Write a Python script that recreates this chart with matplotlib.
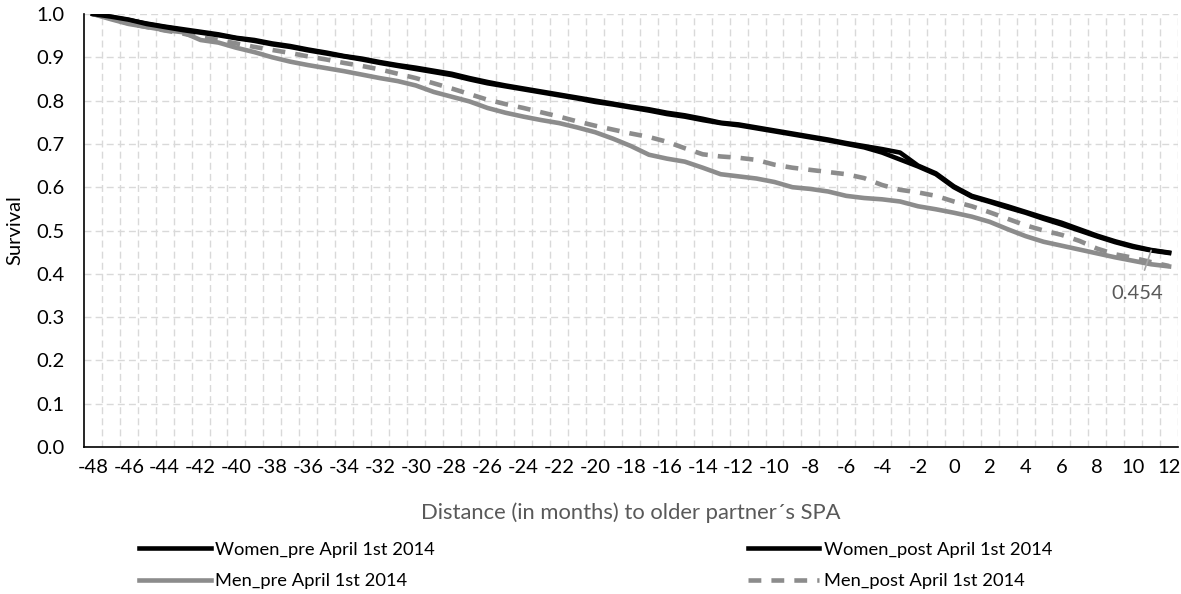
import numpy as np
import matplotlib
matplotlib.use('Agg')
import matplotlib.pyplot as plt
from matplotlib.ticker import FixedLocator

plt.rcParams['font.family'] = ['Lato', 'DejaVu Sans']
plt.rcParams['axes.unicode_minus'] = False

# Data
months = list(range(-48, 13))

women_pre = [1.000, 0.993, 0.986, 0.978, 0.971, 0.965, 0.959, 0.953, 0.945, 0.940,
             0.932, 0.926, 0.918, 0.911, 0.903, 0.897, 0.889, 0.882, 0.876, 0.869,
             0.862, 0.852, 0.843, 0.835, 0.828, 0.821, 0.814, 0.807, 0.800, 0.793,
             0.786, 0.780, 0.772, 0.766, 0.758, 0.749, 0.745, 0.738, 0.731, 0.724,
             0.717, 0.710, 0.702, 0.695, 0.688, 0.680, 0.650, 0.632, 0.602, 0.580,
             0.568, 0.556, 0.543, 0.530, 0.518, 0.503, 0.488, 0.475, 0.464, 0.455,
             0.449]

women_post = [1.000, 0.994, 0.987, 0.977, 0.970, 0.963, 0.957, 0.951, 0.944, 0.938,
              0.930, 0.924, 0.916, 0.909, 0.902, 0.895, 0.887, 0.880, 0.873, 0.866,
              0.859, 0.849, 0.840, 0.833, 0.826, 0.819, 0.812, 0.805, 0.797, 0.791,
              0.784, 0.777, 0.769, 0.763, 0.755, 0.748, 0.743, 0.736, 0.729, 0.722,
              0.715, 0.708, 0.700, 0.692, 0.680, 0.664, 0.648, 0.630, 0.600, 0.578,
              0.566, 0.553, 0.541, 0.527, 0.514, 0.500, 0.486, 0.473, 0.462, 0.454,
              0.448]

men_pre = [1.000, 0.988, 0.977, 0.970, 0.963, 0.958, 0.940, 0.934, 0.922, 0.912,
           0.900, 0.890, 0.882, 0.875, 0.868, 0.860, 0.852, 0.845, 0.835, 0.820,
           0.809, 0.798, 0.783, 0.772, 0.763, 0.755, 0.748, 0.738, 0.727, 0.712,
           0.695, 0.675, 0.666, 0.659, 0.645, 0.630, 0.625, 0.620, 0.612, 0.600,
           0.596, 0.590, 0.580, 0.575, 0.572, 0.567, 0.556, 0.549, 0.541, 0.532,
           0.520, 0.503, 0.487, 0.474, 0.465, 0.456, 0.447, 0.438, 0.430, 0.422,
           0.417]

men_post = [1.000, 0.990, 0.978, 0.970, 0.962, 0.955, 0.946, 0.940, 0.932, 0.924,
            0.917, 0.910, 0.902, 0.895, 0.887, 0.880, 0.872, 0.862, 0.852, 0.840,
            0.828, 0.815, 0.802, 0.792, 0.783, 0.773, 0.763, 0.752, 0.742, 0.733,
            0.724, 0.716, 0.705, 0.690, 0.676, 0.671, 0.668, 0.663, 0.652, 0.645,
            0.640, 0.635, 0.630, 0.621, 0.605, 0.594, 0.588, 0.580, 0.567, 0.556,
            0.542, 0.527, 0.512, 0.500, 0.490, 0.476, 0.458, 0.445, 0.437, 0.427,
            0.418]

y_ticks = [0.0, 0.1, 0.2, 0.3, 0.4, 0.5, 0.6, 0.7, 0.8, 0.9, 1.0]
label_month = 11
label_value = 0.454

fig = plt.figure(figsize=(11.81, 5.94), dpi=100)
ax = fig.add_axes([0.0711, 0.2475, 0.9264, 0.7289])

l1, = ax.plot(months, women_pre, color='black', lw=3.3, label='Women_pre April 1st 2014')
l3, = ax.plot(months, men_pre, color='#8c8c8c', lw=3.3, label='Men_pre April 1st 2014')
l4, = ax.plot(months, men_post, color='#8c8c8c', lw=3.3, ls=(0, (2.8, 2.2)),
              label='Men_post April 1st 2014')
l2, = ax.plot(months, women_post, color='black', lw=3.3, label='Women_post April 1st 2014')

ax.annotate(f'{label_value:.3f}', xy=(label_month, label_value), xytext=(10.2, 0.355),
            ha='center', va='center', fontsize=14.5, color='#595959',
            arrowprops=dict(arrowstyle='-', color='#a6a6a6', lw=1.2, shrinkA=9, shrinkB=0))

ax.set_xlim(-48.5, 12.5)
ax.set_ylim(0, 1)
ax.set_xticks(range(-48, 13, 2))
ax.xaxis.set_minor_locator(FixedLocator(np.arange(-47.5, 12.6, 1)))
ax.set_yticks(y_ticks)
ax.set_yticklabels([f'{v:.1f}' for v in y_ticks])
ax.tick_params(axis='both', which='both', length=0, labelsize=14.5)
ax.tick_params(axis='x', pad=9)
ax.tick_params(axis='y', pad=14)

ax.grid(which='minor', axis='x', color='#d9d9d9', ls=(0, (5, 3)), lw=1)
ax.grid(which='major', axis='y', color='#d9d9d9', ls=(0, (5, 3)), lw=1)
ax.set_axisbelow(True)

for s in ['top', 'right']:
    ax.spines[s].set_visible(False)
ax.spines['left'].set_linewidth(1.2)
ax.spines['bottom'].set_linewidth(1.2)

ax.set_xlabel('Distance (in months) to older partner´s SPA', fontsize=15.8,
              color='#595959', labelpad=19)
ax.set_ylabel('Survival', fontsize=14.5, labelpad=9)

leg_kw = dict(loc='upper left', frameon=False, fontsize=13.2, handlelength=3.9,
              handletextpad=0.25, labelspacing=0.85, borderpad=0, borderaxespad=0)
leg1 = fig.legend(handles=[l1, l3], bbox_to_anchor=(0.118, 0.088), **leg_kw)
leg2 = fig.legend(handles=[l2, l4], bbox_to_anchor=(0.633, 0.088), **leg_kw)

fig.savefig('out.png', dpi=100)
